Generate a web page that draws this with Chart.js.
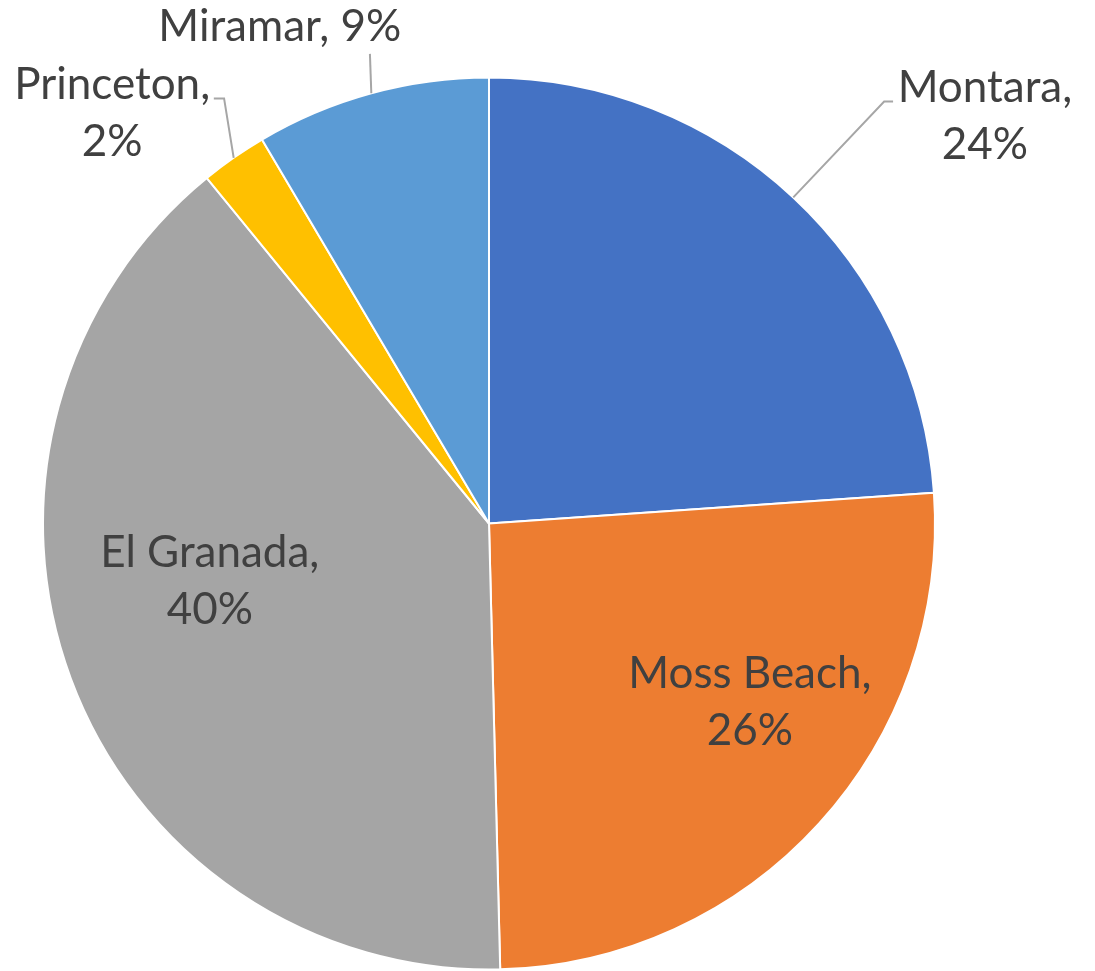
<!DOCTYPE html>
<html>
<head>
<meta charset="utf-8">
<script src="https://cdn.jsdelivr.net/npm/chart.js@4/dist/chart.umd.min.js"></script>
<style>
  html, body { margin: 0; padding: 0; background: #ffffff; }
  #wrap { width: 1095px; height: 971px; position: relative; }
</style>
</head>
<body>
<div id="wrap"><canvas id="c"></canvas></div>
<script>
// ---- data ----
const categories = ["Montara", "Moss Beach", "El Granada", "Princeton", "Miramar"];
const shares = [23.9, 25.7, 39.5, 2.4, 8.5];
const sliceColors = ["#4472C4", "#ED7D31", "#A5A5A5", "#FFC000", "#5B9BD5"];

// label placement (in units of the pie radius, relative to pie centre)
const labelLayout = [
  { mode: "outside", lines: 2, tx: 1.112, ty: -0.944, elbow: [0.886, -0.946], end: [0.906, -0.946] },
  { mode: "inside",  lines: 2, tx: 0.585, ty: 0.368 },
  { mode: "inside",  lines: 2, tx: -0.626, ty: 0.098 },
  { mode: "outside", lines: 2, tx: -0.845, ty: -0.951, elbow: [-0.594, -0.953], end: [-0.617, -0.953] },
  { mode: "outside", lines: 1, tx: -0.469, ty: -1.081, elbow: [-0.267, -1.053], end: [-0.267, -1.053] }
];

const labelPlugin = {
  id: "pieLabels",
  afterDatasetsDraw(chart) {
    const ctx = chart.ctx;
    const meta = chart.getDatasetMeta(0);
    const data = chart.data.datasets[0].data;
    const total = data.reduce((a, b) => a + b, 0);
    const lineH = 57;
    ctx.save();
    ctx.font = "44px Lato";
    ctx.fillStyle = "#404040";
    ctx.textAlign = "center";
    ctx.textBaseline = "alphabetic";
    meta.data.forEach((arc, i) => {
      const { x, y, startAngle, endAngle, outerRadius } = arc.getProps(["x", "y", "startAngle", "endAngle", "outerRadius"], true);
      const R = outerRadius;
      const L = labelLayout[i];
      const pct = Math.round(data[i] / total * 100) + "%";
      const name = chart.data.labels[i] + ",";
      if (L.mode === "outside") {
        const mid = (startAngle + endAngle) / 2;
        const ex = x + Math.cos(mid) * R, ey = y + Math.sin(mid) * R;
        ctx.beginPath();
        ctx.strokeStyle = "#A6A6A6";
        ctx.lineWidth = 2;
        ctx.moveTo(ex, ey);
        ctx.lineTo(x + L.elbow[0] * R, y + L.elbow[1] * R);
        ctx.lineTo(x + L.end[0] * R, y + L.end[1] * R);
        ctx.stroke();
      }
      const tx = x + L.tx * R, ty = y + L.ty * R;
      if (L.lines === 1) {
        ctx.fillText(name + " " + pct, tx, ty);
      } else {
        ctx.fillText(name, tx, ty);
        ctx.fillText(pct, tx, ty + lineH);
      }
    });
    ctx.restore();
  }
};

new Chart(document.getElementById("c"), {
  type: "pie",
  data: {
    labels: categories,
    datasets: [{
      data: shares,
      backgroundColor: sliceColors,
      borderColor: "#ffffff",
      borderWidth: 2,
      hoverOffset: 0,
      radius: 446
    }]
  },
  options: {
    responsive: true,
    maintainAspectRatio: false,
    animation: false,
    layout: { padding: { left: 43, right: 160, top: 77, bottom: 1 } },
    plugins: {
      legend: { display: false },
      tooltip: { enabled: false }
    }
  },
  plugins: [labelPlugin]
});
</script>
</body>
</html>
